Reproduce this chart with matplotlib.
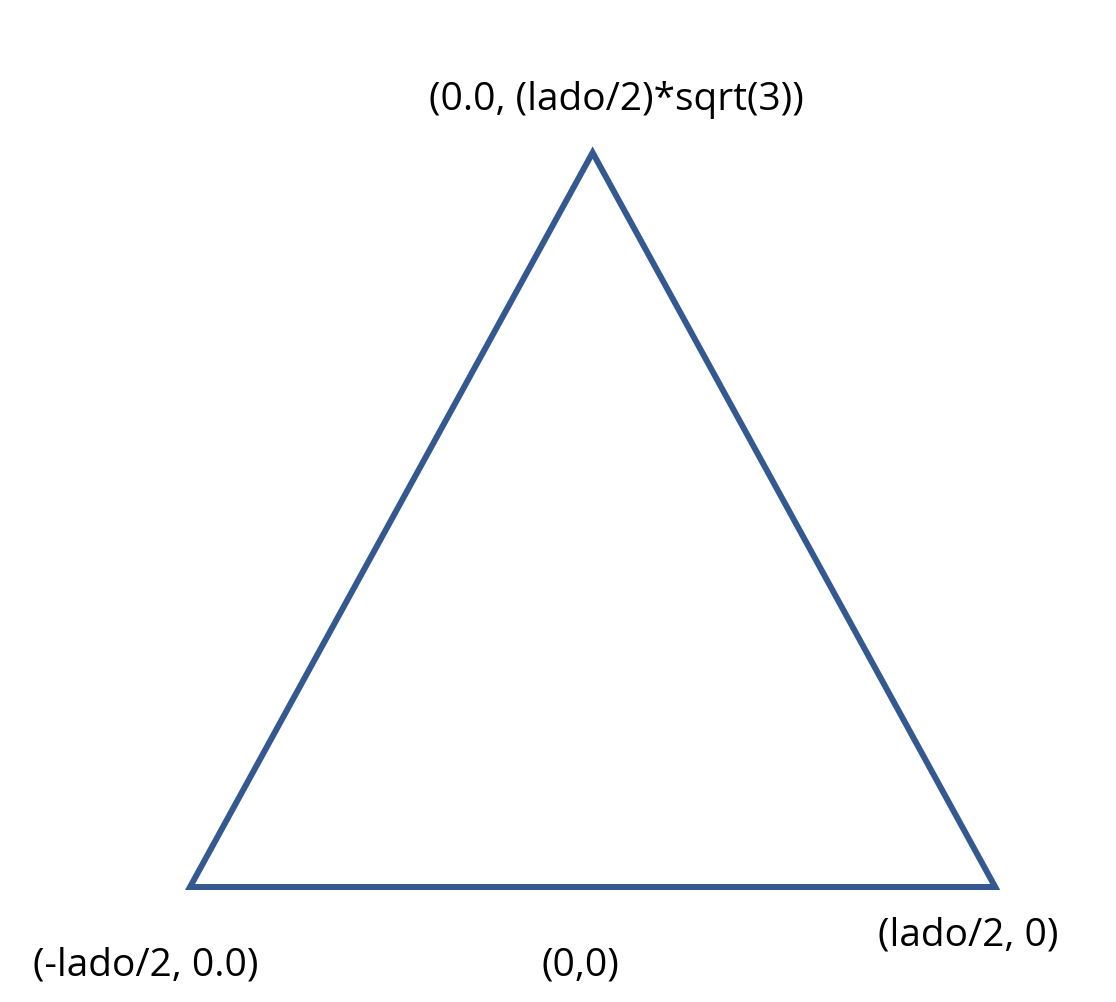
import numpy as np
import matplotlib.pyplot as plt

lado = 1.0
h = (lado / 2) * np.sqrt(3)
vx = [-lado / 2, lado / 2, 0.0]
vy = [0.0, 0.0, h]
labels = ["(-lado/2, 0.0)", "(lado/2, 0)", "(0.0, (lado/2)*sqrt(3))", "(0,0)"]

fig = plt.figure(figsize=(11.16, 10.02), dpi=100)
ax = fig.add_axes([0, 0, 1, 1])
ax.fill(vx, vy, facecolor='none', edgecolor='#345890', linewidth=4.3, joinstyle='miter')
ax.set_xlim(-0.736, 0.650)
ax.set_ylim(-0.1356, 1.046)
ax.axis('off')

kw = dict(fontsize=28, family=['Open Sans', 'DejaVu Sans'], ha='center', va='center')
ax.text(vx[0] - 0.055, -0.092, labels[0], **kw)
ax.text(vx[1] - 0.033, -0.057, labels[1], **kw)
ax.text(vx[2] + 0.03, h + 0.062, labels[2], **kw)
ax.text(-0.015, -0.092, labels[3], **kw)

fig.savefig("out.png", dpi=100)
